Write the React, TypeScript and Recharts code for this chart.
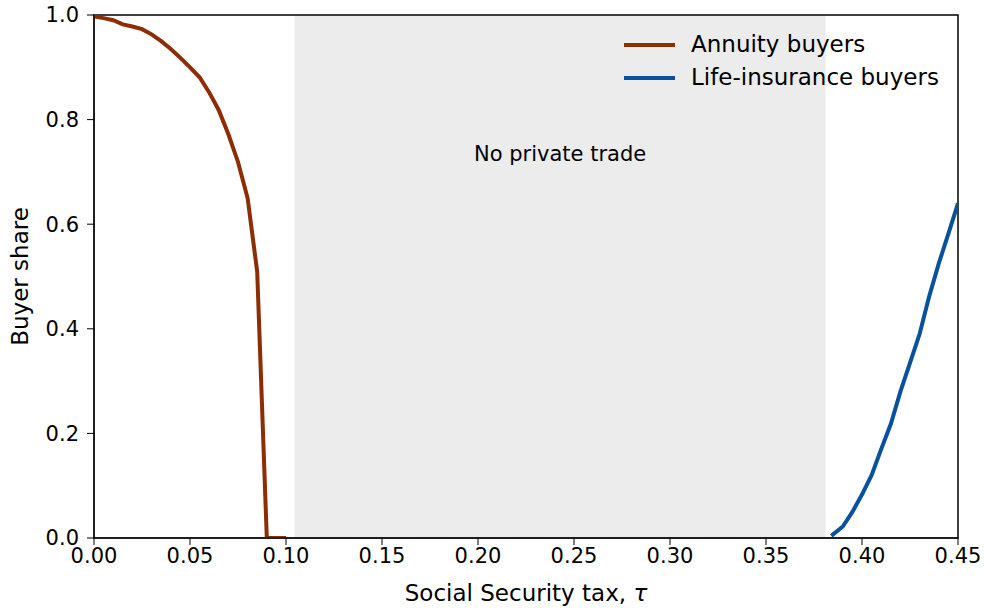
import {
  LineChart,
  Line,
  XAxis,
  YAxis,
  ReferenceArea,
  Label,
} from "recharts";

const annuityTax = [
  0, 0.005, 0.01, 0.015, 0.02, 0.025, 0.03, 0.035, 0.04, 0.045, 0.05, 0.055,
  0.06, 0.065, 0.07, 0.075, 0.08, 0.085, 0.09, 0.095, 0.1,
];
const annuityShare = [
  0.997, 0.994, 0.99, 0.982, 0.978, 0.973, 0.963, 0.95, 0.935, 0.918, 0.9,
  0.881, 0.852, 0.818, 0.772, 0.719, 0.65, 0.509, 0.0, 0.0, 0.0,
];

const lifeTax = [
  0.384, 0.39, 0.395, 0.4, 0.405, 0.41, 0.415, 0.42, 0.425, 0.43, 0.435, 0.44,
  0.445, 0.45,
];
const lifeShare = [
  0.004, 0.022, 0.05, 0.083, 0.12, 0.17, 0.218, 0.28, 0.335, 0.39, 0.462,
  0.525, 0.582, 0.64,
];

const noTradeBand = [0.1045, 0.381];

const xTicks = [0, 0.05, 0.1, 0.15, 0.2, 0.25, 0.3, 0.35, 0.4, 0.45];
const yTicks = [0, 0.2, 0.4, 0.6, 0.8, 1.0];

const annuityData = annuityTax.map((x, i) => ({ x, y: annuityShare[i] }));
const lifeData = lifeTax.map((x, i) => ({ x, y: lifeShare[i] }));

const FONT = "DejaVu Sans";
const BROWN = "#8c2d04";
const BLUE = "#08519c";

const legendItems = [
  { name: "Annuity buyers", color: BROWN },
  { name: "Life-insurance buyers", color: BLUE },
];

// drawn as a plain overlay so it doesn't eat into the plot area
function LegendBox() {
  return (
    <div
      style={{
        position: "absolute",
        left: 624,
        top: 28,
        fontFamily: FONT,
        fontSize: 23,
        color: "#000",
        lineHeight: 1,
      }}
    >
      {legendItems.map((it) => (
        <div
          key={it.name}
          style={{ display: "flex", alignItems: "center", height: 33 }}
        >
          <svg width={51} height={4} style={{ marginRight: 16 }}>
            <line x1={0} y1={2} x2={51} y2={2} stroke={it.color} strokeWidth={4} />
          </svg>
          <span>{it.name}</span>
        </div>
      ))}
    </div>
  );
}

export default function App() {
  return (
    <div style={{ position: "absolute", left: 0, top: 0, background: "#fff" }}>
      <LineChart
        width={985}
        height={608}
        margin={{ top: 15, right: 27, left: 0, bottom: 0 }}
      >
        <ReferenceArea
          x1={noTradeBand[0]}
          x2={noTradeBand[1]}
          y1={0}
          y2={1}
          fill="#ececec"
          fillOpacity={1}
          stroke="none"
          label={{
            value: "No private trade",
            position: "insideTop",
            offset: 131,
            fill: "#000",
            fontFamily: FONT,
            fontSize: 21,
          }}
        />
        <XAxis
          dataKey="x"
          type="number"
          domain={[0, 0.45]}
          ticks={xTicks}
          tickFormatter={(v: number) => v.toFixed(2)}
          allowDataOverflow
          height={70}
          stroke="#000"
          tickSize={7}
          tickMargin={3}
          tick={{ fill: "#000", fontFamily: FONT, fontSize: 21 }}
        >
          <Label
            content={(props: any) => {
              const vb = props.viewBox || { x: 94, y: 538, width: 864, height: 70 };
              const cx = vb.x + vb.width / 2;
              const by = vb.y + vb.height - 7;
              return (
                <text
                  x={cx}
                  y={by}
                  textAnchor="middle"
                  fill="#000"
                  fontFamily={FONT}
                  fontSize={23}
                >
                  Social Security tax,{" "}
                  <tspan fontStyle="italic">τ</tspan>
                </text>
              );
            }}
          />
        </XAxis>
        <YAxis
          type="number"
          domain={[0, 1]}
          ticks={yTicks}
          tickFormatter={(v: number) => v.toFixed(1)}
          allowDataOverflow
          width={94}
          stroke="#000"
          tickSize={7}
          tickMargin={8}
          tick={{ fill: "#000", fontFamily: FONT, fontSize: 21 }}
        >
          <Label
            content={(props: any) => {
              const vb = props.viewBox || { y: 15, height: 523 };
              const cy = vb.y + vb.height / 2;
              return (
                <text
                  x={20}
                  y={cy}
                  transform={`rotate(-90 20 ${cy})`}
                  textAnchor="middle"
                  dominantBaseline="central"
                  fill="#000"
                  fontFamily={FONT}
                  fontSize={23}
                >
                  Buyer share
                </text>
              );
            }}
          />
        </YAxis>
        <ReferenceArea
          x1={0}
          x2={0.45}
          y1={0}
          y2={1}
          fill="none"
          stroke="#000"
          strokeWidth={1.5}
        />
        <Line
          data={annuityData}
          dataKey="y"
          name="Annuity buyers"
          type="linear"
          stroke={BROWN}
          strokeWidth={4}
          dot={false}
          isAnimationActive={false}
        />
        <Line
          data={lifeData}
          dataKey="y"
          name="Life-insurance buyers"
          type="linear"
          stroke={BLUE}
          strokeWidth={4}
          dot={false}
          isAnimationActive={false}
        />
      </LineChart>
      <LegendBox />
    </div>
  );
}
